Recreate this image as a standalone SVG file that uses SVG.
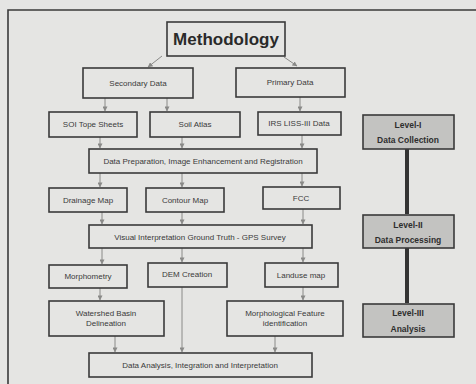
<svg xmlns="http://www.w3.org/2000/svg" width="476" height="384" viewBox="0 0 476 384">
<defs>
<marker id="ah" viewBox="0 0 6 6" refX="5.5" refY="3" markerWidth="5" markerHeight="5" orient="auto" markerUnits="userSpaceOnUse">
<path d="M0,0 L6,3 L0,6 z" fill="#8a8a88"/>
</marker>
</defs>
<style>
.bx{fill:none;stroke:#3a3a3a;stroke-width:1.6}
.lv{fill:#c3c3c1;stroke:#3a3a3a;stroke-width:1.6}
.t{font-family:"Liberation Sans",Arial,sans-serif;font-size:8px;fill:#3a3a3a;text-anchor:middle}
.tl{font-family:"Liberation Sans",Arial,sans-serif;font-size:8.5px;fill:#2e2e2e;text-anchor:middle;font-weight:bold}
.ar{stroke:#8a8a88;stroke-width:1;fill:none;marker-end:url(#ah)}
.lk{stroke:#333;stroke-width:4}
</style>
<rect width="476" height="384" fill="#e5e5e3"/>
<path d="M8,384 L8,10 L476,10" fill="none" stroke="#3a3a3a" stroke-width="1.6"/>

<g id="connectors">
<line class="ar" x1="162" y1="56" x2="148" y2="67"/>
<line class="ar" x1="284" y1="57" x2="297" y2="66"/>
<line class="ar" x1="105" y1="98" x2="105" y2="111"/>
<line class="ar" x1="167" y1="98" x2="167" y2="111"/>
<line class="ar" x1="300" y1="97" x2="300" y2="111"/>
<line class="ar" x1="100" y1="137" x2="100" y2="148"/>
<line class="ar" x1="182" y1="137" x2="182" y2="148"/>
<line class="ar" x1="302" y1="135" x2="302" y2="148"/>
<line class="ar" x1="100" y1="173" x2="100" y2="187"/>
<line class="ar" x1="182" y1="173" x2="182" y2="187"/>
<line class="ar" x1="302" y1="173" x2="302" y2="186"/>
<line class="ar" x1="102" y1="212" x2="102" y2="224"/>
<line class="ar" x1="182" y1="212" x2="182" y2="224"/>
<line class="ar" x1="303" y1="209" x2="303" y2="224"/>
<line class="ar" x1="102" y1="248" x2="102" y2="264"/>
<line class="ar" x1="182" y1="248" x2="182" y2="262"/>
<line class="ar" x1="303" y1="248" x2="303" y2="262"/>
<line class="ar" x1="100" y1="288" x2="100" y2="300"/>
<line class="ar" x1="303" y1="287" x2="303" y2="300"/>
<line class="ar" x1="182" y1="287" x2="182" y2="352"/>
<line class="ar" x1="115" y1="336" x2="115" y2="352"/>
<line class="ar" x1="275" y1="336" x2="275" y2="352"/>
<line class="lk" x1="407" y1="149" x2="407" y2="214"/>
<line class="lk" x1="407" y1="248" x2="407" y2="303"/>
</g>

<g id="methodology">
<rect class="bx" x="167" y="22" width="118" height="34"/>
<text x="226" y="45" font-family="Liberation Sans,Arial,sans-serif" font-size="17" font-weight="bold" fill="#2a2a2a" text-anchor="middle">Methodology</text>
</g>
<g id="secondary"><rect class="bx" x="83" y="68" width="110" height="30"/><text class="t" x="138" y="86">Secondary Data</text></g>
<g id="primary"><rect class="bx" x="236" y="68" width="109" height="29"/><text class="t" x="290" y="85">Primary Data</text></g>
<g id="soi"><rect class="bx" x="49" y="112" width="88" height="25"/><text class="t" x="93" y="127">SOI Tope Sheets</text></g>
<g id="soil"><rect class="bx" x="150" y="112" width="90" height="25"/><text class="t" x="195" y="127">Soil Atlas</text></g>
<g id="irs"><rect class="bx" x="258" y="112" width="83" height="23"/><text class="t" x="299" y="126">IRS LISS-III Data</text></g>
<g id="dataprep"><rect class="bx" x="89" y="149" width="228" height="24"/><text class="t" x="203" y="164">Data Preparation, Image Enhancement and Registration</text></g>
<g id="drainage"><rect class="bx" x="49" y="188" width="78" height="24"/><text class="t" x="88" y="203">Drainage Map</text></g>
<g id="contour"><rect class="bx" x="146" y="188" width="78" height="24"/><text class="t" x="185" y="203">Contour Map</text></g>
<g id="fcc"><rect class="bx" x="263" y="187" width="77" height="22"/><text class="t" x="301" y="201">FCC</text></g>
<g id="visual"><rect class="bx" x="89" y="225" width="223" height="23"/><text class="t" x="200" y="240">Visual Interpretation Ground Truth - GPS Survey</text></g>
<g id="morphometry"><rect class="bx" x="49" y="265" width="78" height="23"/><text class="t" x="88" y="279">Morphometry</text></g>
<g id="dem"><rect class="bx" x="148" y="263" width="79" height="24"/><text class="t" x="187" y="277">DEM Creation</text></g>
<g id="landuse"><rect class="bx" x="265" y="263" width="73" height="24"/><text class="t" x="301" y="278">Landuse map</text></g>
<g id="watershed"><rect class="bx" x="49" y="301" width="115" height="35"/><text class="t" x="106" y="316">Watershed Basin</text><text class="t" x="106" y="326">Delineation</text></g>
<g id="morphological"><rect class="bx" x="227" y="301" width="116" height="35"/><text class="t" x="285" y="316">Morphological Feature</text><text class="t" x="285" y="326">identification</text></g>
<g id="analysis"><rect class="bx" x="89" y="353" width="223" height="24"/><text class="t" x="200" y="368">Data Analysis, Integration  and Interpretation</text></g>
<g id="level1"><rect class="lv" x="363" y="115" width="91" height="34"/><text class="tl" x="408" y="128">Level-I</text><text class="tl" x="408" y="143">Data Collection</text></g>
<g id="level2"><rect class="lv" x="363" y="215" width="91" height="33"/><text class="tl" x="408" y="228">Level-II</text><text class="tl" x="408" y="243">Data Processing</text></g>
<g id="level3"><rect class="lv" x="363" y="304" width="91" height="33"/><text class="tl" x="408" y="316">Level-III</text><text class="tl" x="408" y="332">Analysis</text></g>
</svg>
